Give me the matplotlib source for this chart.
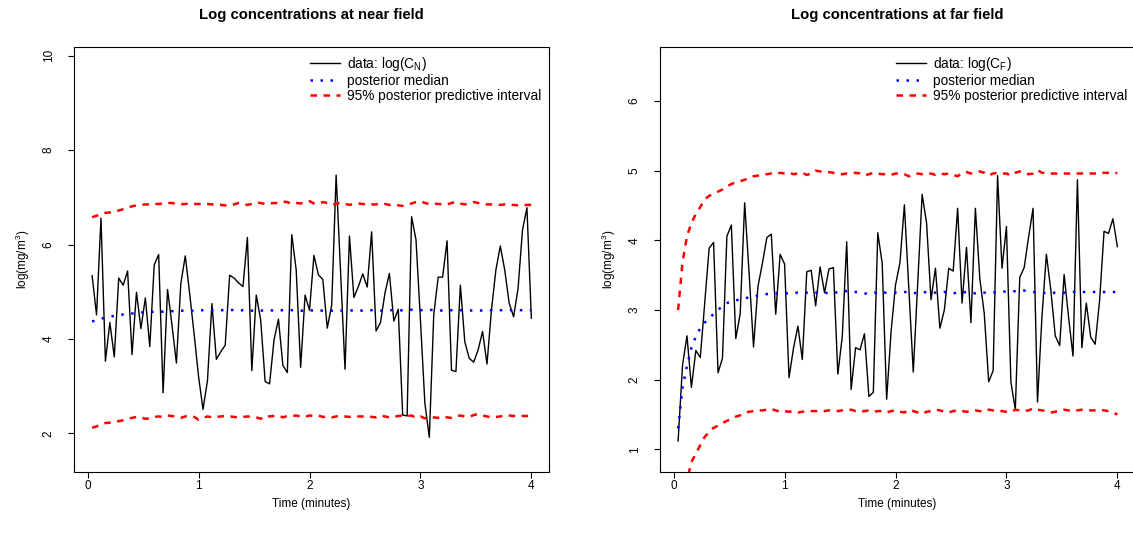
import matplotlib
matplotlib.use("Agg")
import matplotlib.pyplot as plt
import numpy as np

plt.rcParams['font.family'] = ['Liberation Sans', 'DejaVu Sans']

# time grid (minutes), 100 samples every 0.04 min
time = np.linspace(0.04, 4.0, 100)

# near field
near_data = [5.34, 4.51, 6.56, 3.53, 4.35, 3.62, 5.29, 5.14, 5.44, 3.67,
             4.99, 4.22, 4.87, 3.84, 5.57, 5.79, 2.86, 5.05, 4.30, 3.49,
             5.18, 5.76, 4.95, 4.10, 3.20, 2.51, 3.12, 4.75, 3.57, 3.73,
             3.87, 5.35, 5.29, 5.19, 5.11, 6.15, 3.33, 4.93, 4.40, 3.10,
             3.05, 3.98, 4.42, 3.44, 3.29, 6.21, 5.46, 3.40, 4.93, 4.61,
             5.77, 5.36, 5.26, 4.23, 4.72, 7.47, 5.42, 3.36, 6.18, 4.88,
             5.11, 5.38, 5.10, 6.27, 4.17, 4.35, 4.97, 5.39, 4.38, 4.63,
             2.39, 2.37, 6.59, 6.10, 4.40, 2.64, 1.92, 4.51, 5.31, 5.31,
             6.08, 3.34, 3.31, 5.14, 3.94, 3.59, 3.51, 3.77, 4.16, 3.47,
             4.61, 5.46, 5.97, 5.46, 4.76, 4.47, 5.07, 6.31, 6.78, 4.44]
near_median = [4.37, 4.40, 4.43, 4.45, 4.47, 4.49, 4.50, 4.52, 4.53, 4.54,
               4.55, 4.56, 4.57, 4.57, 4.58, 4.58, 4.58, 4.59, 4.59, 4.59,
               4.60, 4.60, 4.60, 4.60, 4.61, 4.61, 4.61, 4.61, 4.60, 4.61,
               4.61, 4.62, 4.61, 4.60, 4.61, 4.59, 4.60, 4.61, 4.60, 4.61,
               4.61, 4.60, 4.60, 4.61, 4.60, 4.61, 4.61, 4.60, 4.60, 4.61,
               4.60, 4.61, 4.60, 4.60, 4.60, 4.59, 4.60, 4.61, 4.60, 4.61,
               4.61, 4.60, 4.61, 4.61, 4.60, 4.60, 4.61, 4.61, 4.61, 4.60,
               4.61, 4.61, 4.62, 4.61, 4.61, 4.61, 4.62, 4.61, 4.61, 4.60,
               4.61, 4.61, 4.60, 4.61, 4.61, 4.60, 4.61, 4.61, 4.60, 4.61,
               4.61, 4.60, 4.61, 4.61, 4.61, 4.61, 4.61, 4.61, 4.61, 4.61]
near_upper = [6.58, 6.61, 6.64, 6.67, 6.68, 6.70, 6.72, 6.75, 6.78, 6.81,
              6.83, 6.84, 6.85, 6.85, 6.86, 6.86, 6.87, 6.88, 6.88, 6.86,
              6.85, 6.86, 6.87, 6.86, 6.86, 6.85, 6.86, 6.85, 6.84, 6.84,
              6.83, 6.82, 6.85, 6.88, 6.86, 6.84, 6.86, 6.89, 6.88, 6.86,
              6.87, 6.88, 6.88, 6.91, 6.90, 6.86, 6.88, 6.87, 6.90, 6.92,
              6.87, 6.86, 6.90, 6.88, 6.84, 6.86, 6.89, 6.86, 6.84, 6.86,
              6.87, 6.86, 6.84, 6.85, 6.85, 6.87, 6.86, 6.84, 6.84, 6.83,
              6.82, 6.84, 6.87, 6.90, 6.92, 6.88, 6.86, 6.87, 6.86, 6.85,
              6.85, 6.88, 6.90, 6.87, 6.85, 6.87, 6.90, 6.88, 6.86, 6.85,
              6.85, 6.84, 6.84, 6.85, 6.84, 6.84, 6.83, 6.83, 6.84, 6.84]
near_lower = [2.12, 2.15, 2.19, 2.22, 2.23, 2.25, 2.26, 2.28, 2.31, 2.33,
              2.35, 2.34, 2.31, 2.32, 2.35, 2.36, 2.35, 2.38, 2.37, 2.35,
              2.33, 2.36, 2.38, 2.35, 2.29, 2.33, 2.36, 2.34, 2.35, 2.36,
              2.37, 2.36, 2.35, 2.34, 2.35, 2.36, 2.35, 2.34, 2.31, 2.38,
              2.36, 2.37, 2.38, 2.34, 2.37, 2.37, 2.38, 2.36, 2.35, 2.38,
              2.37, 2.38, 2.35, 2.36, 2.34, 2.36, 2.37, 2.36, 2.35, 2.37,
              2.36, 2.36, 2.37, 2.35, 2.34, 2.38, 2.36, 2.34, 2.35, 2.37,
              2.38, 2.37, 2.38, 2.33, 2.36, 2.32, 2.35, 2.34, 2.33, 2.36,
              2.34, 2.33, 2.37, 2.38, 2.36, 2.35, 2.39, 2.41, 2.38, 2.36,
              2.34, 2.35, 2.36, 2.39, 2.38, 2.37, 2.36, 2.37, 2.37, 2.37]

# far field
far_data = [1.12, 2.21, 2.63, 1.89, 2.42, 2.32, 3.10, 3.89, 3.97, 2.10,
            2.31, 4.06, 4.22, 2.59, 2.95, 4.54, 3.53, 2.47, 3.34, 3.67,
            4.04, 4.09, 2.94, 3.80, 3.66, 2.03, 2.45, 2.77, 2.29, 3.55,
            3.57, 3.06, 3.62, 3.25, 3.59, 3.61, 2.08, 2.62, 3.98, 1.86,
            2.46, 2.43, 2.66, 1.76, 1.82, 4.11, 3.67, 1.72, 2.69, 3.36,
            3.68, 4.51, 3.31, 2.11, 3.38, 4.66, 4.25, 3.15, 3.60, 2.74,
            3.00, 3.60, 3.56, 4.46, 3.10, 3.90, 2.82, 4.46, 3.45, 2.95,
            1.97, 2.13, 4.93, 3.60, 4.20, 1.97, 1.57, 3.47, 3.61, 4.05,
            4.46, 1.68, 2.90, 3.80, 3.29, 2.63, 2.49, 3.51, 2.90, 2.34,
            4.87, 2.46, 3.10, 2.61, 2.51, 3.14, 4.13, 4.10, 4.31, 3.91]
far_median = [1.30, 1.89, 2.20, 2.46, 2.62, 2.74, 2.82, 2.89, 2.94, 3.00,
              3.06, 3.10, 3.12, 3.14, 3.15, 3.17, 3.18, 3.19, 3.21, 3.22,
              3.23, 3.23, 3.24, 3.24, 3.24, 3.24, 3.25, 3.25, 3.24, 3.25,
              3.25, 3.25, 3.24, 3.25, 3.24, 3.24, 3.26, 3.28, 3.27, 3.26,
              3.26, 3.25, 3.24, 3.23, 3.24, 3.26, 3.25, 3.25, 3.25, 3.25,
              3.25, 3.26, 3.25, 3.24, 3.25, 3.25, 3.26, 3.25, 3.25, 3.25,
              3.26, 3.25, 3.24, 3.25, 3.25, 3.26, 3.25, 3.24, 3.25, 3.25,
              3.25, 3.25, 3.26, 3.26, 3.27, 3.27, 3.27, 3.27, 3.28, 3.27,
              3.26, 3.25, 3.25, 3.24, 3.24, 3.25, 3.25, 3.25, 3.25, 3.26,
              3.26, 3.26, 3.26, 3.26, 3.26, 3.26, 3.26, 3.26, 3.26, 3.26]
far_upper = [3.00, 3.69, 4.06, 4.25, 4.38, 4.48, 4.59, 4.64, 4.67, 4.70,
             4.73, 4.77, 4.81, 4.83, 4.85, 4.87, 4.89, 4.92, 4.93, 4.94,
             4.95, 4.96, 4.95, 4.97, 4.96, 4.97, 4.95, 4.96, 4.97, 4.94,
             4.96, 5.00, 4.99, 4.98, 4.98, 4.97, 4.95, 4.95, 4.96, 4.96,
             4.97, 4.96, 4.93, 4.95, 4.97, 4.96, 4.95, 4.95, 4.94, 4.96,
             4.96, 4.95, 4.92, 4.95, 4.96, 4.95, 4.95, 4.96, 4.94, 4.96,
             4.95, 4.96, 4.94, 4.92, 4.97, 4.98, 4.96, 4.98, 4.99, 4.97,
             4.93, 4.96, 4.97, 4.96, 4.96, 4.93, 4.97, 4.99, 4.96, 4.95,
             4.96, 5.01, 4.97, 4.97, 4.96, 4.96, 4.95, 4.96, 4.96, 4.95,
             4.96, 4.96, 4.97, 4.96, 4.96, 4.97, 4.97, 4.97, 4.96, 4.97]
far_lower = [-0.80, 0.10, 0.55, 0.82, 0.94, 1.06, 1.18, 1.25, 1.31, 1.34,
             1.38, 1.41, 1.44, 1.47, 1.49, 1.53, 1.54, 1.55, 1.56, 1.56,
             1.57, 1.58, 1.56, 1.54, 1.55, 1.54, 1.55, 1.53, 1.54, 1.55,
             1.55, 1.55, 1.55, 1.55, 1.56, 1.56, 1.55, 1.56, 1.56, 1.57,
             1.55, 1.54, 1.55, 1.56, 1.54, 1.55, 1.55, 1.53, 1.55, 1.56,
             1.54, 1.53, 1.57, 1.55, 1.53, 1.51, 1.54, 1.55, 1.57, 1.56,
             1.54, 1.53, 1.55, 1.56, 1.55, 1.54, 1.55, 1.56, 1.55, 1.54,
             1.57, 1.56, 1.56, 1.55, 1.54, 1.54, 1.57, 1.56, 1.55, 1.56,
             1.59, 1.57, 1.56, 1.55, 1.53, 1.54, 1.56, 1.57, 1.56, 1.55,
             1.56, 1.57, 1.56, 1.56, 1.56, 1.57, 1.56, 1.55, 1.53, 1.50]

panels = [
    dict(title="Log concentrations at near field", data=near_data, median=near_median,
         upper=near_upper, lower=near_lower, sub="N", ylim=(1.19, 10.19),
         yticks=[2, 4, 6, 8, 10], left=73.8),
    dict(title="Log concentrations at far field", data=far_data, median=far_median,
         upper=far_upper, lower=far_lower, sub="F", ylim=(0.68, 6.78),
         yticks=[1, 2, 3, 4, 5, 6], left=659.8),
]

W, H = 1133, 538
fig = plt.figure(figsize=(W / 100, H / 100), dpi=100)

for p in panels:
    ax = fig.add_axes([p["left"] / W, (H - 471.7) / H, 475.2 / W, 425 / H])
    ax.plot(time, p["data"], color='black', lw=1.0,
            label=r'data: log(C$_\mathregular{%s}$)' % p["sub"])
    ax.plot(time, p["median"], color='blue', lw=1.8, linestyle=(0, (1, 3)),
            label='posterior median')
    ax.plot(time, p["upper"], color='red', lw=1.8, linestyle=(0, (2.6, 2.6)),
            label='95% posterior predictive interval')
    ax.plot(time, p["lower"], color='red', lw=1.8, linestyle=(0, (2.6, 2.6)))

    ax.set_xlim(-0.125, 4.159)
    ax.set_ylim(*p["ylim"])
    ax.set_xticks([0, 1, 2, 3, 4])
    ax.set_yticks(p["yticks"])
    ax.tick_params(axis='both', direction='out', length=4.3, width=0.8,
                   labelsize=8.5, colors='black')
    ax.tick_params(axis='x', pad=1.5)
    ax.tick_params(axis='y', pad=9.5)
    for lab in ax.get_yticklabels():
        lab.set_rotation(90)
        lab.set_va('center')
    for s in ax.spines.values():
        s.set_linewidth(0.8)

    ax.set_xlabel("Time (minutes)", fontsize=8.5)
    ax.set_ylabel(r"log(mg/m$^\mathregular{3}$)", fontsize=8.5)
    ax.xaxis.set_label_coords(0.5, -0.062)
    ax.yaxis.set_label_coords(-0.088, 0.5)
    ax.text(0.5, 1.075, p["title"], transform=ax.transAxes, ha='center',
            va='center', fontsize=10.7, fontweight='bold')

    ax.legend(loc='upper left', bbox_to_anchor=(0.497, 0.981), frameon=False,
              fontsize=9.8, handlelength=2.2, handletextpad=0.51,
              labelspacing=0.08, borderpad=0, borderaxespad=0)

fig.savefig("out.png", dpi=100)
